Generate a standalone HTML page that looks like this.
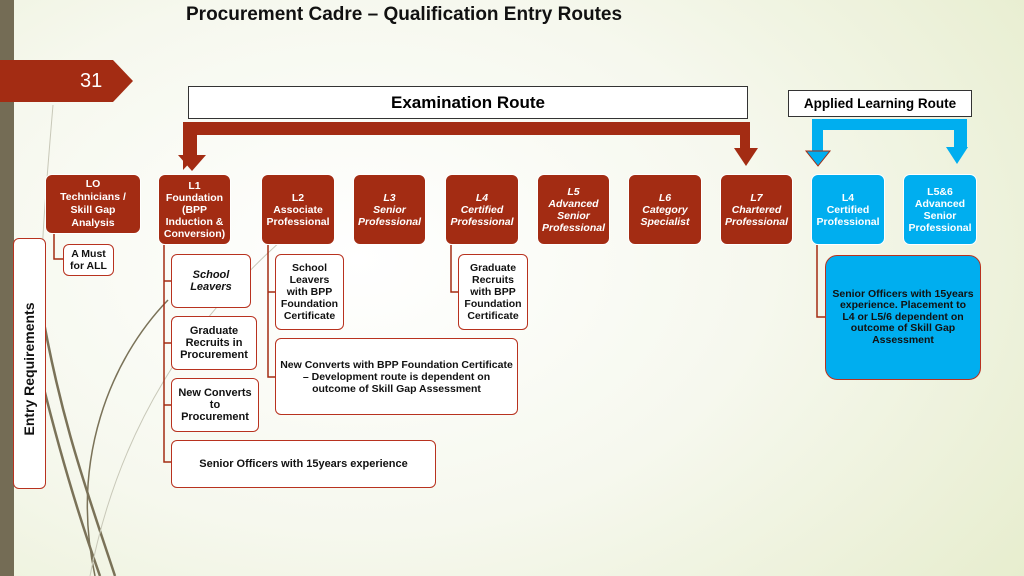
<!DOCTYPE html>
<html><head><meta charset="utf-8"><style>
*{margin:0;padding:0;box-sizing:border-box}
body{width:1024px;height:576px;overflow:hidden;position:relative;font-family:"Liberation Sans",sans-serif;
background:radial-gradient(ellipse 900px 600px at 35% 45%,#ffffff 0%,#f6f8ee 45%,#e4ebc8 100%);}
.a{position:absolute}
.r{position:absolute;background:#a32c13;color:#fff;border-radius:7px;text-align:center;font-weight:bold;font-size:10.5px;line-height:12px;display:flex;flex-direction:column;justify-content:center;border:1px solid #fff}
.b{background:#00aeef}
.i{font-style:italic}
.w{position:absolute;background:#fff;border:1.5px solid #b8321f;border-radius:6px;color:#111;text-align:center;font-weight:bold;font-size:10.5px;line-height:12px;display:flex;flex-direction:column;justify-content:center}
</style></head><body>
<div class="a" style="left:0;top:0;width:14px;height:576px;background:#746c55"></div>
<svg class="a" style="left:0;top:0" width="1024" height="576">
<g fill="none" stroke="#7a7258" stroke-width="2.5">
<path d="M40 300 C60 420 90 500 115 576"/>
<path d="M30 330 C55 440 80 520 100 576"/>
<path d="M168 300 C110 360 70 460 95 576" stroke-width="1.5"/>
</g>
<g fill="none" stroke="#c8c8b8" stroke-width="1">
<path d="M53 105 C45 200 40 260 42 300"/>
<path d="M330 200 C200 300 120 420 90 576"/>
</g>
<polygon points="0,60 113,60 133,81 113,102 0,102" fill="#a32c13"/>
<path d="M183 170 L183 122 L750 122 L750 148 L740 148 L740 135 L197 135 L197 155" fill="#a32c13"/>
<polygon points="178,155 206,155 192,171" fill="#a32c13"/>
<polygon points="734,148 758,148 746,166" fill="#a32c13"/>
<path d="M812 152 L812 119 L967 119 L967 148 L954 148 L954 130 L823 130 L823 152 Z" fill="#00aeef"/>
<polygon points="806,151 830,151 818,166" fill="#00aeef" stroke="#a32c13" stroke-width="1"/>
<polygon points="946,147 968,147 957,164" fill="#00aeef"/>
<g fill="none" stroke="#a32c13" stroke-width="1.5">
<path d="M54 234 L54 259 L63 259"/>
<path d="M164 245 L164 462 L171 462 M164 281 L171 281 M164 343 L171 343 M164 405 L171 405"/>
<path d="M268 245 L268 377 L275 377 M268 292 L275 292"/>
<path d="M451 245 L451 292 L458 292"/>
<path d="M817 245 L817 317 L825 317"/>
</g>
</svg>
<div class="a" style="left:80px;top:70px;color:#fff;font-size:20px">31</div>
<div class="a" style="left:186px;top:4px;font-size:19px;font-weight:bold;color:#111">Procurement Cadre – Qualification Entry Routes</div>
<div class="a" style="left:188px;top:86px;width:560px;height:33px;border:1.5px solid #333;background:#fff;text-align:center;font-weight:bold;font-size:17px;line-height:31px">Examination Route</div>
<div class="a" style="left:788px;top:90px;width:184px;height:27px;border:1.5px solid #333;background:#fff;text-align:center;font-weight:bold;font-size:13.5px;line-height:25px">Applied Learning Route</div>

<div class="r" style="left:45px;top:174px;width:96px;height:60px;line-height:13px">LO<br>Technicians /<br>Skill Gap<br>Analysis</div>
<div class="r" style="left:158px;top:174px;width:73px;height:71px">L1<br>Foundation<br>(BPP<br>Induction &amp;<br>Conversion)</div>
<div class="r" style="left:261px;top:174px;width:74px;height:71px">L2<br>Associate<br>Professional</div>
<div class="r i" style="left:353px;top:174px;width:73px;height:71px">L3<br>Senior<br>Professional</div>
<div class="r i" style="left:445px;top:174px;width:74px;height:71px">L4<br>Certified<br>Professional</div>
<div class="r i" style="left:537px;top:174px;width:73px;height:71px">L5<br>Advanced<br>Senior<br>Professional</div>
<div class="r i" style="left:628px;top:174px;width:74px;height:71px">L6<br>Category<br>Specialist</div>
<div class="r i" style="left:720px;top:174px;width:73px;height:71px">L7<br>Chartered<br>Professional</div>
<div class="r b" style="left:811px;top:174px;width:74px;height:71px">L4<br>Certified<br>Professional</div>
<div class="r b" style="left:903px;top:174px;width:74px;height:71px">L5&amp;6<br>Advanced<br>Senior<br>Professional</div>

<div class="w" style="left:13px;top:238px;width:33px;height:251px"></div>
<div class="a" style="left:29px;top:369px;transform:translate(-50%,-50%) rotate(-90deg);white-space:nowrap;font-size:14px;font-weight:bold;color:#111">Entry Requirements</div>
<div class="w" style="left:63px;top:244px;width:51px;height:32px">A Must<br>for ALL</div>
<div class="w i" style="left:171px;top:254px;width:80px;height:54px;font-size:11px">School<br>Leavers</div>
<div class="w" style="left:171px;top:316px;width:86px;height:54px;font-size:11px">Graduate<br>Recruits in<br>Procurement</div>
<div class="w" style="left:171px;top:378px;width:88px;height:54px;font-size:11px">New Converts<br>to<br>Procurement</div>
<div class="w" style="left:171px;top:440px;width:265px;height:48px;font-size:11px">Senior Officers with 15years experience</div>
<div class="w" style="left:275px;top:254px;width:69px;height:76px">School<br>Leavers<br>with BPP<br>Foundation<br>Certificate</div>
<div class="w" style="left:275px;top:338px;width:243px;height:77px;justify-content:flex-start;padding-top:20px">New Converts with BPP Foundation Certificate<br>– Development route is dependent on<br>outcome of Skill Gap Assessment</div>
<div class="w" style="left:458px;top:254px;width:70px;height:76px">Graduate<br>Recruits<br>with BPP<br>Foundation<br>Certificate</div>
<div class="w" style="left:825px;top:255px;width:156px;height:125px;background:#00aeef;border-radius:12px;line-height:11.5px">Senior Officers with 15years<br>experience. Placement to<br>L4 or L5/6 dependent on<br>outcome of Skill Gap<br>Assessment</div>
</body></html>
